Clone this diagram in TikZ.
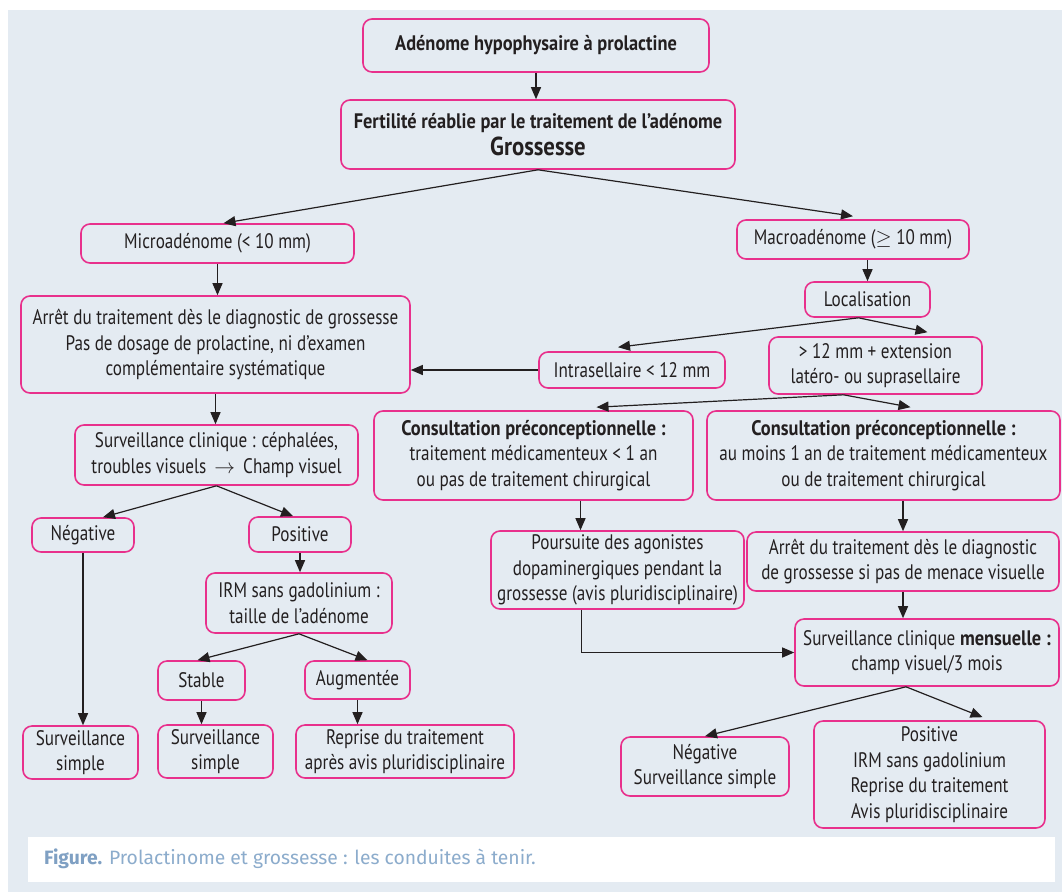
\documentclass[tikz,border=0pt]{standalone}
\usepackage{fontspec}
\setmainfont{PT Sans}[UprightFeatures={FakeStretch=0.815},BoldFeatures={FakeStretch=0.875}]
\newfontfamily\capfont{Fira Sans}
\usetikzlibrary{arrows.meta,calc}
\definecolor{bgc}{RGB}{228,235,242}
\definecolor{pinkc}{RGB}{232,48,140}
\definecolor{txt}{RGB}{35,31,32}
\definecolor{capb}{RGB}{127,160,195}
\definecolor{capt}{RGB}{140,172,204}
\tikzset{
  bx/.style={draw=pinkc, line width=1.6pt, rounded corners=9pt, align=center, inner sep=0pt, text=txt, font=\fontsize{21}{25.5}\selectfont},
  arr/.style={draw=txt, line width=1.2pt, -{Triangle[length=12pt,width=10pt]}}
}
\newcommand\bx[6]{\node[bx, minimum width={(#4)-(#2)}, minimum height={(#5)-(#3)}] (#1) at ({((#2)+(#4))/2},{((#3)+(#5))/2}) {#6};}
\begin{document}
\begin{tikzpicture}[x=1pt,y=-1pt]
\useasboundingbox (0,0) rectangle (1062,892);
\fill[white] (0,0) rectangle (1062,892);
\fill[bgc] (8,10) rectangle (1062,892);
\fill[white] (28,837) rectangle (1055,882);
\node[anchor=west, inner sep=0pt] (cap) at (44,859) {\capfont\fontsize{19.3}{22}\selectfont\textcolor{capb}{\textbf{Figure.}} \textcolor{capt}{Prolactinome et grossesse : les conduites à tenir.}};

\bx{b1}{363}{19}{709}{72}{\textbf{Adénome hypophysaire à prolactine}}
\bx{b2}{341}{100}{735}{169}{\textbf{Fertilité réablie par le traitement de l’adénome}\\[1pt]{\fontsize{26}{30}\selectfont\textbf{Grossesse}}}
\bx{mic}{81}{224}{354}{263}{Microadénome (< 10 mm)}
\bx{mac}{737}{220}{969}{259}{Macroadénome ($\geq$ 10 mm)}
\bx{lft}{21}{296}{410}{393}{Arrêt du traitement dès le diagnostic de grossesse\\Pas de dosage de prolactine, ni d’examen\\complémentaire systématique}
\bx{loc}{805}{282}{930}{317}{Localisation}
\bx{int}{539}{352}{725}{388}{Intrasellaire < 12 mm}
\bx{g12}{769}{337}{982}{394}{> 12 mm + extension\\latéro- ou suprasellaire}
\bx{sc}{75}{425}{358}{485}{Surveillance clinique : céphalées,\\troubles visuels \,$\rightarrow$\, Champ visuel}
\bx{cl}{374}{411}{693}{500}{\textbf{Consultation préconceptionnelle :}\\traitement médicamenteux < 1 an\\ou pas de traitement chirurgical}
\bx{cr}{707}{411}{1060}{500}{\textbf{Consultation préconceptionnelle :}\\au moins 1 an de traitement médicamenteux\\ou de traitement chirurgical}
\bx{neg}{32}{518}{134}{552}{Négative}
\bx{pos}{249}{517}{351}{552}{Positive}
\bx{pou}{491}{531}{744}{609}{Poursuite des agonistes\\dopaminergiques pendant la\\grossesse (avis pluridisciplinaire)}
\bx{ar}{747}{532}{1059}{591}{Arrêt du traitement dès le diagnostic\\de grossesse si pas de menace visuelle}
\bx{irm}{206}{573}{392}{633}{IRM sans gadolinium :\\taille de l’adénome}
\bx{sm}{795}{619}{1059}{686}{Surveillance clinique \textbf{mensuelle :}\\champ visuel/3 mois}
\bx{stb}{158}{661}{245}{700}{Stable}
\bx{aug}{305}{661}{410}{699}{Augmentée}
\bx{ss1}{23}{726}{138}{779}{Surveillance\\simple}
\bx{ss2}{158}{725}{273}{778}{Surveillance\\simple}
\bx{rep}{296}{725}{514}{778}{Reprise du traitement\\après avis pluridisciplinaire}
\bx{nr}{621}{737}{789}{796}{Négative\\Surveillance simple}
\bx{pr}{814}{721}{1045}{828}{Positive\\IRM sans gadolinium\\Reprise du traitement\\Avis pluridisciplinaire}

\draw[arr] (b1.south) -- (b1.south |- b2.north);
\draw[arr] (b2.south) -- ([xshift=6pt]mic.north);
\draw[arr] (b2.south) -- ([yshift=3pt]mac.north);
\draw[arr] (mic.south) -- (mic.south |- lft.north);
\draw[arr] (loc.north |- mac.south) -- (loc.north);
\coordinate (ls) at ([xshift=-9pt]loc.south);
\draw[arr] (ls) -- ([xshift=-14pt,yshift=4pt]int.north);
\draw[arr] (ls) -- ([xshift=52pt,yshift=4pt]g12.north);
\draw[arr] (int.west) -- (int.west -| lft.east);
\coordinate (gs) at ([xshift=-32pt]g12.south);
\draw[arr] (gs) -- ([xshift=63pt,yshift=3pt]cl.north);
\draw[arr] (gs) -- ([xshift=27pt,yshift=3pt]cr.north);
\draw[arr] (lft.south) -- (lft.south |- sc.north);
\draw[arr] (sc.south) -- ([xshift=20pt]neg.north);
\draw[arr] (sc.south) -- ([xshift=-7pt]pos.north);
\draw[arr] (neg.south) -- (neg.south |- ss1.north);
\draw[arr] (pos.south) -- (pos.south |- irm.north);
\draw[arr] (irm.south) -- ([xshift=-4pt]stb.north);
\draw[arr] (irm.south) -- ([xshift=10pt]aug.north);
\draw[arr] (stb.south) -- (stb.south |- ss2.north);
\draw[arr] (aug.south) -- (aug.south |- rep.north);
\coordinate (cls) at ([xshift=47pt]cl.south);
\draw[arr] (cls) -- (cls |- pou.north);
\draw[arr] (ar.north |- cr.south) -- (ar.north);
\draw[arr] (ar.south) -- (ar.south |- sm.north);
\coordinate (ps) at ([xshift=-36pt]pou.south);
\draw[arr] (ps) |- (sm.west);
\coordinate (sms) at ([xshift=-21pt]sm.south);
\draw[arr] (sms) -- (nr.north);
\draw[arr] (sms) -- ([xshift=53pt,yshift=3pt]pr.north);
\end{tikzpicture}
\end{document}
